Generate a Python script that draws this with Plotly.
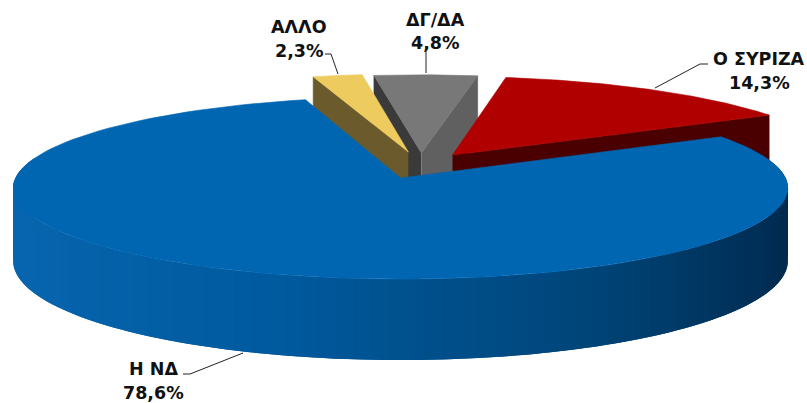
import numpy as np
import plotly.graph_objects as go

# ---- data ----
categories = ["Η ΝΔ", "ΑΛΛΟ", "ΔΓ/ΔΑ", "Ο ΣΥΡΙΖΑ"]
values = [78.6, 2.3, 4.8, 14.3]

# ---- styles / geometry ----
W, H = 807, 403
X0, Y0, A, B, K, D = 400.5, 178, 385, 90, 0.11, 72
START = 28.8
OFFSET = {"Η ΝΔ": (0, 0), "ΑΛΛΟ": (0.021, 0.298), "ΔΓ/ΔΑ": (0.056, 0.287), "Ο ΣΥΡΙΖΑ": (0.139, 0.263)}
RADIUS = {"Η ΝΔ": 1.0, "ΑΛΛΟ": 1.025, "ΔΓ/ΔΑ": 1.025, "Ο ΣΥΡΙΖΑ": 1.025}
TOP = {"Η ΝΔ": "#0066b2", "ΑΛΛΟ": "#eecb5f", "ΔΓ/ΔΑ": "#787878", "Ο ΣΥΡΙΖΑ": "#b10000"}
LEFT_WALL = {"ΑΛΛΟ": "#6b5a2b", "ΔΓ/ΔΑ": "#3a3a3a"}
RIGHT_WALL = {"ΔΓ/ΔΑ": "#606060", "Ο ΣΥΡΙΖΑ": "#4a0000"}
OUTER_STOPS = [(-1.0, (8, 102, 176)), (-0.3, (0, 90, 158)), (0.4, (0, 70, 122)), (1.0, (0, 41, 77))]
LABEL_POS = {"Η ΝΔ": (153, 369, 393), "ΑΛΛΟ": (299, 27, 51), "ΔΓ/ΔΑ": (435, 20, 43), "Ο ΣΥΡΙΖΑ": (759, 59, 83)}
LEADERS = {
    "Η ΝΔ": ([243, 190, 183], [353, 374, 374]),
    "ΑΛΛΟ": ([338, 331, 325], [74, 54, 54]),
    "ΔΓ/ΔΑ": ([426, 426], [73, 52]),
    "Ο ΣΥΡΙΖΑ": ([655, 700, 708], [88, 64, 64]),
}
FONT = dict(family="DejaVu Sans", size=17.5, color="#111111")


def project(u, v, z=0.0):
    w = 1 + K * np.asarray(v)
    return X0 + A * np.asarray(u) / w, Y0 - B * np.asarray(v) / w + D * z / w


def rim(name, t0, t1, n=120):
    """Plane coordinates of the slice's rim, for angles t0 to t1 in degrees."""
    t = np.radians(np.linspace(t0, t1, n))
    du, dv = OFFSET[name]
    r = RADIUS[name]
    return du + r * np.cos(t), dv + r * np.sin(t)


fig = go.Figure()


def poly(x, y, color):
    fig.add_trace(go.Scatter(
        x=list(x), y=list(y), mode="lines", fill="toself", fillcolor=color,
        line=dict(color=color, width=0.6), hoverinfo="skip", showlegend=False))


# slice angles, clockwise from START
angles = {}
cur = START
for name, val in zip(categories, values):
    angles[name] = (cur, cur - val * 3.6)
    cur -= val * 3.6


def wall(name, t, color):
    du, dv = OFFSET[name]
    u, v = rim(name, t, t, 2)
    x1, y1 = project([du, u[0]], [dv, v[0]], 0)
    x2, y2 = project([u[0], du], [v[0], dv], 1)
    poly(list(x1) + list(x2), list(y1) + list(y2), color)


def top(name):
    du, dv = OFFSET[name]
    a, b = angles[name]
    u, v = rim(name, a, b)
    x, y = project(np.r_[du, u, du], np.r_[dv, v, dv])
    poly(x, y, TOP[name])


# far slices, back to front
wall("ΔΓ/ΔΑ", angles["ΔΓ/ΔΑ"][0], LEFT_WALL["ΔΓ/ΔΑ"])
wall("ΔΓ/ΔΑ", angles["ΔΓ/ΔΑ"][1], RIGHT_WALL["ΔΓ/ΔΑ"])
top("ΔΓ/ΔΑ")
wall("ΑΛΛΟ", angles["ΑΛΛΟ"][0], LEFT_WALL["ΑΛΛΟ"])
top("ΑΛΛΟ")
wall("Ο ΣΥΡΙΖΑ", angles["Ο ΣΥΡΙΖΑ"][1], RIGHT_WALL["Ο ΣΥΡΙΖΑ"])
top("Ο ΣΥΡΙΖΑ")

# outer wall of the main slice, shaded in overlapping strips
stops_u = [s[0] for s in OUTER_STOPS]
a, b = angles["Η ΝΔ"]
edges = np.linspace(a, b, 121)
step = edges[1] - edges[0]
for e0, e1 in zip(edges[:-1], edges[1:]):
    u, v = rim("Η ΝΔ", e0, e1 + step, 4)
    if v.mean() > 0.2:
        continue
    x1, y1 = project(u, v, 0)
    x2, y2 = project(u[::-1], v[::-1], 1)
    rgb = [int(np.interp(u.mean(), stops_u, [s[1][i] for s in OUTER_STOPS])) for i in range(3)]
    c = "rgb(%d,%d,%d)" % tuple(rgb)
    fig.add_trace(go.Scatter(x=list(x1) + list(x2), y=list(y1) + list(y2), mode="none", fill="toself",
                             fillcolor=c, hoverinfo="skip", showlegend=False))
top("Η ΝΔ")

# labels and leader lines
annotations = []
for name, val in zip(categories, values):
    lx, ly = LEADERS[name]
    fig.add_trace(go.Scatter(x=lx, y=ly, mode="lines", line=dict(color="#222222", width=1),
                             hoverinfo="skip", showlegend=False))
    xc, y1, y2 = LABEL_POS[name]
    pct = f"{val:.1f}%".replace(".", ",")
    annotations.append(dict(x=xc, y=y1, text=f"<b>{name}</b>", showarrow=False, font=FONT))
    annotations.append(dict(x=xc, y=y2, text=f"<b>{pct}</b>", showarrow=False, font=FONT))

fig.update_layout(
    width=W, height=H, margin=dict(l=0, r=0, t=0, b=0),
    paper_bgcolor="white", plot_bgcolor="white", annotations=annotations,
    xaxis=dict(range=[0, W], visible=False, fixedrange=True),
    yaxis=dict(range=[H, 0], visible=False, fixedrange=True),
)
fig.write_html("out.html", config={"displayModeBar": False},
               post_script="document.body.style.margin='0';document.body.style.overflow='hidden';")
